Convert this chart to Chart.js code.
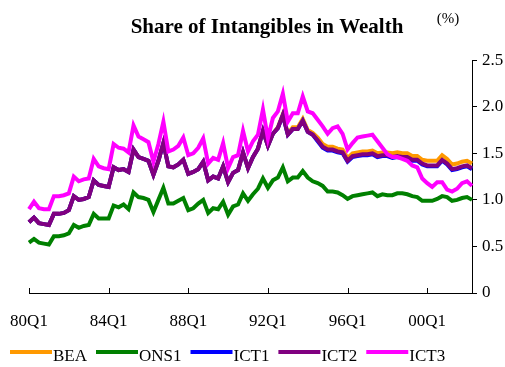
<!DOCTYPE html>
<html>
<head>
<meta charset="utf-8">
<script src="https://cdn.jsdelivr.net/npm/chart.js@4/dist/chart.umd.min.js"></script>
<style>
  html, body { margin: 0; padding: 0; background: #fff; }
  #wrap { width: 505px; height: 367px; position: relative; }
</style>
</head>
<body>
<div id="wrap"><canvas id="chart"></canvas></div>
<script>
const SERIF = "'Liberation Serif', 'Times New Roman', serif";

// quarterly categories, 80Q1 .. 02Q2
const quarters = [];
for (let y = 1980; quarters.length < 90; y++) {
    for (let q = 1; q <= 4 && quarters.length < 90; q++) {
        quarters.push(String(y % 100).padStart(2, '0') + 'Q' + q);
    }
}
const tickLabels = ['80Q1', '84Q1', '88Q1', '92Q1', '96Q1', '00Q1'];

const seriesNames = ['BEA', 'ONS1', 'ICT1', 'ICT2', 'ICT3'];
const seriesColors = ['#ff9900', '#008000', '#0000ff', '#800080', '#ff00ff'];

const bea = [
    0.76, 0.81, 0.75, 0.74, 0.73, 0.85, 0.85, 0.86, 0.89, 1.04,
    1.00, 1.01, 1.03, 1.21, 1.16, 1.15, 1.14, 1.35, 1.32, 1.33,
    1.30, 1.54, 1.46, 1.44, 1.42, 1.27, 1.42, 1.61, 1.36, 1.35,
    1.38, 1.43, 1.28, 1.30, 1.33, 1.41, 1.21, 1.25, 1.23, 1.36,
    1.19, 1.29, 1.32, 1.51, 1.34, 1.46, 1.55, 1.74, 1.58, 1.71,
    1.78, 1.92, 1.71, 1.78, 1.78, 1.87, 1.75, 1.72, 1.67, 1.60,
    1.57, 1.57, 1.55, 1.54, 1.45, 1.50, 1.51, 1.52, 1.52, 1.53,
    1.50, 1.51, 1.51, 1.50, 1.51, 1.50, 1.50, 1.47, 1.47, 1.43,
    1.42, 1.42, 1.42, 1.48, 1.44, 1.38, 1.39, 1.41, 1.42, 1.39
];
const ons1 = [
    0.54, 0.58, 0.54, 0.53, 0.52, 0.61, 0.61, 0.62, 0.64, 0.73,
    0.70, 0.72, 0.73, 0.85, 0.80, 0.80, 0.80, 0.94, 0.92, 0.95,
    0.90, 1.08, 1.03, 1.02, 1.00, 0.87, 1.00, 1.13, 0.96, 0.96,
    0.99, 1.02, 0.89, 0.91, 0.96, 1.00, 0.86, 0.91, 0.90, 0.98,
    0.84, 0.93, 0.95, 1.07, 0.99, 1.06, 1.12, 1.23, 1.13, 1.21,
    1.24, 1.35, 1.20, 1.24, 1.24, 1.31, 1.24, 1.20, 1.18, 1.15,
    1.09, 1.09, 1.08, 1.05, 1.01, 1.04, 1.05, 1.06, 1.07, 1.08,
    1.04, 1.06, 1.05, 1.05, 1.07, 1.07, 1.06, 1.04, 1.03, 0.99,
    0.99, 0.99, 1.01, 1.04, 1.03, 0.99, 1.00, 1.02, 1.03, 1.00
];
const ict1 = [
    0.76, 0.81, 0.75, 0.74, 0.73, 0.85, 0.85, 0.86, 0.89, 1.04,
    1.00, 1.01, 1.03, 1.21, 1.16, 1.15, 1.14, 1.35, 1.32, 1.33,
    1.30, 1.54, 1.46, 1.44, 1.42, 1.27, 1.42, 1.61, 1.36, 1.35,
    1.38, 1.43, 1.28, 1.30, 1.33, 1.41, 1.21, 1.25, 1.23, 1.36,
    1.19, 1.29, 1.32, 1.51, 1.34, 1.46, 1.55, 1.74, 1.58, 1.71,
    1.77, 1.91, 1.70, 1.76, 1.76, 1.85, 1.73, 1.70, 1.63, 1.56,
    1.53, 1.53, 1.51, 1.50, 1.41, 1.46, 1.47, 1.48, 1.48, 1.49,
    1.46, 1.47, 1.47, 1.45, 1.46, 1.45, 1.45, 1.42, 1.42, 1.38,
    1.36, 1.36, 1.36, 1.42, 1.38, 1.32, 1.33, 1.35, 1.36, 1.33
];
const ict2 = [
    0.76, 0.81, 0.75, 0.74, 0.73, 0.85, 0.85, 0.86, 0.89, 1.04,
    1.00, 1.01, 1.03, 1.21, 1.16, 1.15, 1.14, 1.35, 1.32, 1.33,
    1.30, 1.54, 1.46, 1.44, 1.42, 1.27, 1.42, 1.61, 1.36, 1.35,
    1.38, 1.43, 1.28, 1.30, 1.33, 1.41, 1.21, 1.25, 1.23, 1.36,
    1.19, 1.29, 1.32, 1.51, 1.34, 1.46, 1.55, 1.74, 1.58, 1.71,
    1.77, 1.91, 1.70, 1.76, 1.76, 1.85, 1.73, 1.70, 1.64, 1.57,
    1.54, 1.54, 1.52, 1.51, 1.42, 1.47, 1.48, 1.49, 1.49, 1.50,
    1.47, 1.48, 1.48, 1.46, 1.47, 1.46, 1.46, 1.43, 1.43, 1.39,
    1.37, 1.37, 1.37, 1.43, 1.39, 1.33, 1.34, 1.36, 1.37, 1.34
];
const ict3 = [
    0.90, 0.98, 0.91, 0.90, 0.90, 1.04, 1.04, 1.05, 1.07, 1.25,
    1.20, 1.22, 1.23, 1.44, 1.36, 1.34, 1.33, 1.60, 1.56, 1.55,
    1.51, 1.80, 1.68, 1.65, 1.62, 1.41, 1.60, 1.84, 1.52, 1.54,
    1.58, 1.67, 1.48, 1.50, 1.56, 1.66, 1.39, 1.45, 1.43, 1.61,
    1.34, 1.46, 1.48, 1.74, 1.52, 1.63, 1.70, 1.97, 1.66, 1.88,
    1.95, 2.14, 1.84, 1.93, 1.93, 2.11, 1.95, 1.93, 1.86, 1.79,
    1.71, 1.77, 1.79, 1.71, 1.54, 1.61, 1.67, 1.68, 1.69, 1.70,
    1.63, 1.56, 1.49, 1.46, 1.46, 1.44, 1.42, 1.37, 1.35, 1.23,
    1.18, 1.14, 1.19, 1.19, 1.11, 1.09, 1.12, 1.18, 1.20, 1.15
];

const seriesData = [bea, ons1, ict1, ict2, ict3];
// later series sit on top of earlier ones
const drawOrder = [4, 3, 2, 1, 0];

// title note, inward x tick marks and the bottom legend row
const extras = {
    id: 'extras',
    afterDraw(chart) {
        const { ctx, chartArea, scales: { x } } = chart;
        ctx.save();
        ctx.strokeStyle = '#000';
        ctx.lineWidth = 1;
        chart.data.labels.forEach((lab, i) => {
            if (!tickLabels.includes(lab)) return;
            const px = Math.round(x.getPixelForValue(i)) + 0.5;
            ctx.beginPath();
            ctx.moveTo(px, chartArea.bottom);
            ctx.lineTo(px, chartArea.bottom - 5);
            ctx.stroke();
        });

        ctx.fillStyle = '#000';
        ctx.font = '15px ' + SERIF;
        ctx.textAlign = 'center';
        ctx.textBaseline = 'middle';
        ctx.fillText('(%)', chartArea.right - 24, 19);

        ctx.font = '17px ' + SERIF;
        ctx.textAlign = 'left';
        ctx.textBaseline = 'alphabetic';
        let lx = 10;
        chart.data.datasets.forEach(ds => {
            ctx.strokeStyle = ds.borderColor;
            ctx.lineWidth = 4;
            ctx.beginPath();
            ctx.moveTo(lx, 352);
            ctx.lineTo(lx + 42, 352);
            ctx.stroke();
            ctx.fillText(ds.label, lx + 43, 361);
            lx += 43 + ctx.measureText(ds.label).width + 9;
        });
        ctx.restore();
    }
};

new Chart(document.getElementById('chart'), {
    type: 'line',
    data: {
        labels: quarters,
        datasets: seriesNames.map((name, i) => ({
            label: name,
            data: seriesData[i],
            borderColor: seriesColors[i],
            backgroundColor: seriesColors[i],
            borderWidth: 4,
            pointRadius: 0,
            tension: 0,
            order: drawOrder[i]
        }))
    },
    options: {
        responsive: true,
        maintainAspectRatio: false,
        animation: false,
        layout: { padding: { left: 29, right: 0, top: 0, bottom: 0 } },
        plugins: {
            legend: { display: false },
            tooltip: { enabled: false },
            title: {
                display: true,
                text: 'Share of Intangibles in Wealth',
                color: '#000',
                font: { family: SERIF, size: 21, weight: 'bold' },
                padding: { top: 15, bottom: 20 }
            }
        },
        scales: {
            x: {
                offset: false,
                grid: { display: false, drawTicks: false },
                border: { display: true, color: '#000', width: 1 },
                afterFit: s => {
                    s.height = 74;
                    s.paddingLeft = 0;
                    s.paddingRight = 0;
                },
                ticks: {
                    autoSkip: false,
                    maxRotation: 0,
                    padding: 18,
                    color: '#000',
                    font: { family: SERIF, size: 17 },
                    callback: function (v) {
                        const lab = this.getLabelForValue(v);
                        return tickLabels.includes(lab) ? lab : '';
                    }
                }
            },
            y: {
                position: 'right',
                min: 0,
                max: 2.5,
                grid: { drawOnChartArea: false, drawTicks: true, tickLength: 5, color: '#000' },
                border: { display: true, color: '#000', width: 1 },
                afterFit: s => { s.width = 33; },
                ticks: {
                    stepSize: 0.5,
                    padding: 5,
                    color: '#000',
                    font: { family: SERIF, size: 17 }
                }
            }
        }
    },
    plugins: [extras]
});
</script>
</body>
</html>
